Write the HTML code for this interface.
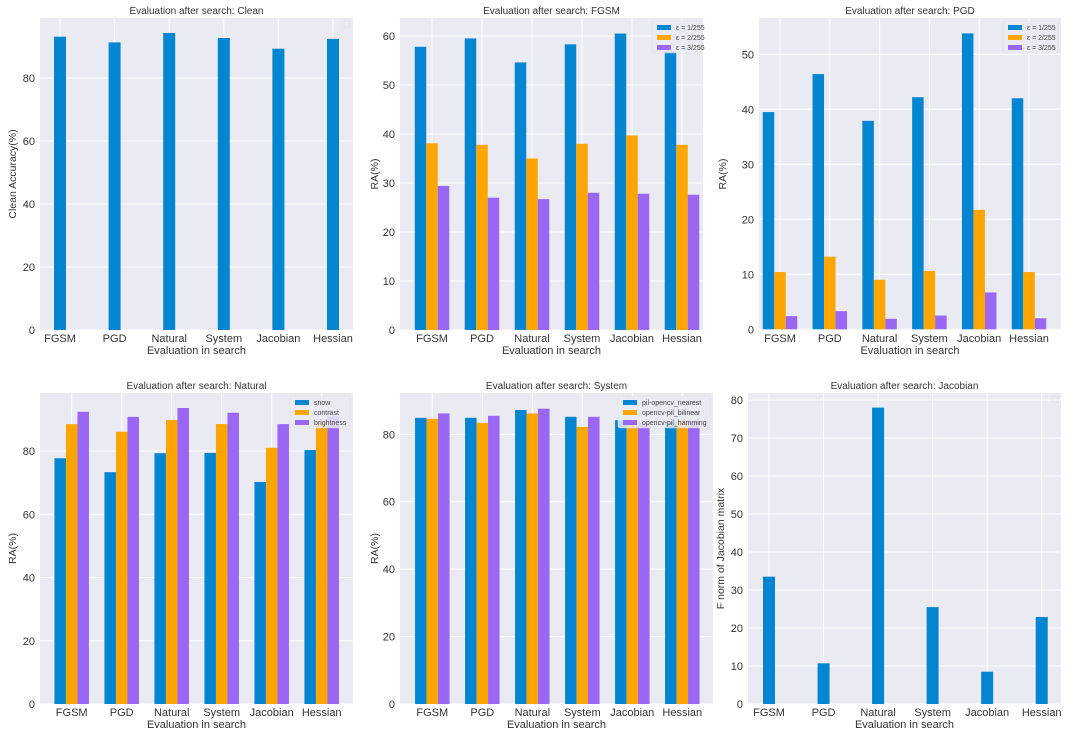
<!DOCTYPE html>
<html><head><meta charset="utf-8"><style>
body{margin:0;background:#fff;}
svg{display:block;font-family:"Liberation Sans","DejaVu Sans",sans-serif;}
</style></head><body>
<svg id="fig" width="1080" height="737" viewBox="0 0 1080 737" xmlns="http://www.w3.org/2000/svg"></svg>
<script>
const categories = ["FGSM","PGD","Natural","System","Jacobian","Hessian"];
// Clean
const cleanValues = [93.1,91.3,94.3,92.7,89.3,92.4];
// FGSM
const fgsmEps1 = [57.8,59.5,54.6,58.3,60.5,56.8];
const fgsmEps2 = [38.1,37.8,35.0,38.0,39.7,37.8];
const fgsmEps3 = [29.4,27.0,26.7,28.0,27.8,27.6];
// PGD
const pgdEps1 = [39.5,46.4,37.9,42.2,53.8,42.0];
const pgdEps2 = [10.4,13.2,9.0,10.6,21.7,10.4];
const pgdEps3 = [2.4,3.3,1.9,2.5,6.7,2.0];
// Natural
const natSnow = [77.7,73.3,79.3,79.4,70.2,80.3];
const natContrast = [88.5,86.1,89.8,88.5,81.0,89.0];
const natBrightness = [92.4,90.8,93.6,92.1,88.5,91.0];
// System
const sysNearest = [84.9,84.9,87.2,85.2,84.2,83.5];
const sysBilinear = [84.6,83.4,86.2,82.2,83.0,84.0];
const sysHamming = [86.2,85.5,87.6,85.2,83.5,84.0];
// Jacobian
const jacValues = [33.5,10.7,78.0,25.5,8.5,22.9];
// ticks
const ticksClean = [0,20,40,60,80];
const ticksFgsm = [0,10,20,30,40,50,60];
const ticksPgd = [0,10,20,30,40,50];
const ticksNat = [0,20,40,60,80];
const ticksSys = [0,20,40,60,80];
const ticksJac = [0,10,20,30,40,50,60,70,80];
const epsLabels = ["ε = 1/255","ε = 2/255","ε = 3/255"];
const natLabels = ["snow","contrast","brightness"];
const sysLabels = ["pil-opencv_nearest","opencv-pil_bilinear","opencv-pil_hamming"];

const COLORS = ["#0485d1","#ffa500","#9a66f4"];
const NS = "http://www.w3.org/2000/svg";
const fig = document.getElementById('fig');
function mk(tag, attrs, parent, text){
  const e = document.createElementNS(NS, tag);
  for (const k in attrs) e.setAttribute(k, attrs[k]);
  if (text !== undefined) e.textContent = text;
  (parent||fig).appendChild(e);
  return e;
}

function panel(cfg){
  const g = mk('g', {});
  
  
  const {L,R,T,B,y0px,unit,c0,c5,bw} = cfg;
  const yS = v => y0px - v*unit;
  const xS = i => c0 + (c5-c0)*i/5;
  const bg = mk('rect',{x:L,y:T,width:R-L,height:B-T,fill:'#eaeaf2'},g);
  
  
  cfg.ticks.forEach(t=>{
    const y = yS(t);
    const gl = mk('line',{x1:L,x2:R,y1:y,y2:y,stroke:'#fff','stroke-width':1},g);
    
    
    const tl = mk('text',{x:L-5,y:y+4,'text-anchor':'end','font-size':11,fill:'#333'},g,String(t));
    
    
  });
  categories.forEach((c,i)=>{
    const x = xS(i);
    const gl = mk('line',{x1:x,x2:x,y1:T,y2:B,stroke:'#fff','stroke-width':1},g);
    
    
    const tl = mk('text',{x:x,y:B+12,'text-anchor':'middle','font-size':11,fill:'#333'},g,c);
    
    
  });
  const n = cfg.series.length;
  cfg.series.forEach((s,si)=>{
    s.forEach((v,i)=>{
      const off = n===1 ? 0 : (si-1)*bw;
      const x = xS(i)+off-bw/2;
      const r = mk('rect',{x:x,y:yS(v),width:bw,height:y0px-yS(v),fill:COLORS[si]},g);
      
      
    });
  });
  const tt = mk('text',{x:(L+R)/2,y:T-4,'text-anchor':'middle','font-size':10,fill:'#333'},g,cfg.title);
  
  
  const xl = mk('text',{x:(L+R)/2,y:B+24,'text-anchor':'middle','font-size':11,fill:'#333'},g,'Evaluation in search');
  
  
  const yx = cfg.yLabelX, yy=(T+B)/2;
  const yl = mk('text',{x:yx,y:yy,'text-anchor':'middle','font-size':10.5,fill:'#333',transform:`rotate(-90 ${yx} ${yy})`},g,cfg.yLabel);
  
  
  if (cfg.legend){
    const lw = cfg.legendW, lx = R-lw-3, ly = T+3;
    const lb = mk('rect',{x:lx,y:ly,width:lw,height:32,fill:'#eaeaf2',stroke:'#ddd','stroke-width':0.6,rx:2,opacity:0.85},g);
    
    
    cfg.legend.forEach((t,k)=>{
      const sw = mk('rect',{x:lx+5,y:ly+4+k*10,width:14,height:5,fill:COLORS[k]},g);
      
      
      const lt = mk('text',{x:lx+24,y:ly+9+k*10,'font-size':7,fill:'#444'},g,t);
      
      
    });
  } else {
    const lb = mk('rect',{x:R-9,y:T+3,width:6,height:6,fill:'none',stroke:'#ddd','stroke-width':0.6},g);
    
    
  }
}

panel({name:'clean-chart',title:'Evaluation after search: Clean',yLabel:'Clean Accuracy(%)',L:40,R:353,T:18,B:330,y0px:330,unit:3.15,c0:60,c5:333,bw:12,ticks:ticksClean,series:[cleanValues],yLabelX:16});
panel({name:'fgsm-chart',title:'Evaluation after search: FGSM',yLabel:'RA(%)',L:400,R:703,T:18,B:330,y0px:330,unit:4.9,c0:432,c5:682,bw:11.5,ticks:ticksFgsm,series:[fgsmEps1,fgsmEps2,fgsmEps3],legend:epsLabels,legendW:48,yLabelX:378});
panel({name:'pgd-chart',title:'Evaluation after search: PGD',yLabel:'RA(%)',L:759,R:1061,T:18,B:330,y0px:329.3,unit:5.5,c0:780,c5:1029,bw:11.5,ticks:ticksPgd,series:[pgdEps1,pgdEps2,pgdEps3],legend:epsLabels,legendW:55,yLabelX:726});
panel({name:'natural-chart',title:'Evaluation after search: Natural',yLabel:'RA(%)',L:40,R:353,T:393,B:704,y0px:704,unit:3.1625,c0:71.7,c5:321.7,bw:11.5,ticks:ticksNat,series:[natSnow,natContrast,natBrightness],legend:natLabels,legendW:60,yLabelX:16});
panel({name:'system-chart',title:'Evaluation after search: System',yLabel:'RA(%)',L:400,R:713,T:393,B:704,y0px:704,unit:3.371,c0:432.3,c5:682.3,bw:11.5,ticks:ticksSys,series:[sysNearest,sysBilinear,sysHamming],legend:sysLabels,legendW:92,yLabelX:378});
panel({name:'jacobian-chart',title:'Evaluation after search: Jacobian',yLabel:'F norm of Jacobian matrix',L:748,R:1061,T:393,B:704,y0px:704,unit:3.8,c0:769,c5:1041.7,bw:12,ticks:ticksJac,series:[jacValues],yLabelX:724});
</script>
</body></html>
